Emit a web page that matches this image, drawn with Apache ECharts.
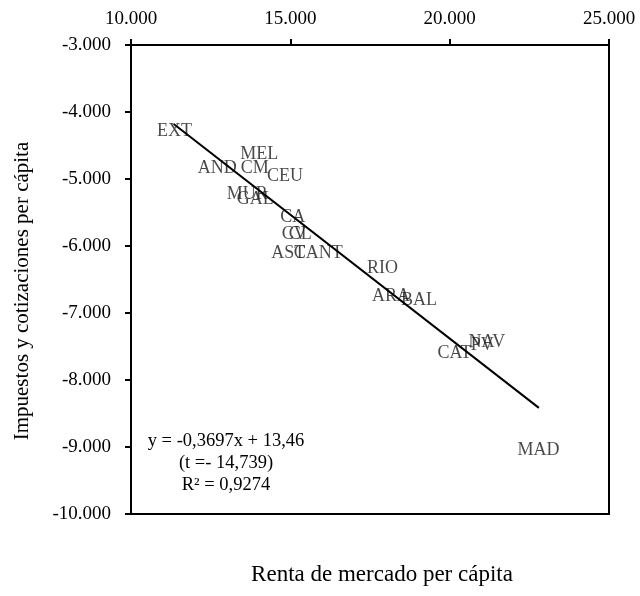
<!DOCTYPE html>
<html>
<head>
<meta charset="utf-8">
<script src="https://cdn.jsdelivr.net/npm/echarts@6/dist/echarts.min.js"></script>
<style>
html,body{margin:0;padding:0;background:#fff;}
#chart{width:640px;height:596px;}
</style>
</head>
<body>
<div id="chart"></div>
<script>
// Data
const regions = ['EXT','MEL','AND','CM','CEU','MUR','GAL','CA','CV','CL','AST','CANT','RIO','ARA','BAL','CAT','NAV','PV','MAD'];
const renta = [11362,14025,12709,13884,14830,13649,13899,15074,15121,15309,14933,15873,17893,18159,19036,20154,21166,21025,22788];
const impuestos = [-4294,-4627,-4846,-4846,-4955,-5221,-5309,-5575,-5821,-5821,-6109,-6109,-6333,-6757,-6806,-7601,-7436,-7478,-9045];
const trendX = [11340, 22800];
const trendY = [-4180, -8416];
const xTicks = [10000, 15000, 20000, 25000];
const yTicks = [-3000, -4000, -5000, -6000, -7000, -8000, -9000, -10000];
const equationLines = ['y = -0,3697x + 13,46', '(t =- 14,739)', 'R² = 0,9274'];
const xTitle = 'Renta de mercado per cápita';
const yTitle = 'Impuestos y cotizaciones per cápita';

function fmt(v) {
  const neg = v < 0;
  const a = Math.abs(Math.round(v));
  const s = String(a).replace(/\B(?=(\d{3})+(?!\d))/g, '.');
  return (neg ? '-' : '') + s;
}

const FONT = '"Liberation Serif", "DejaVu Serif", serif';
const chart = echarts.init(document.getElementById('chart'), null, {renderer: 'canvas'});

const points = renta.map((x, i) => ({name: regions[i], value: [x, impuestos[i]]}));
const trend = trendX.map((x, i) => [x, trendY[i]]);

chart.setOption({
  animation: false,
  backgroundColor: '#fff',
  grid: {
    left: 131, top: 45, width: 478, height: 469,
    show: true, borderColor: '#000', borderWidth: 2, backgroundColor: 'transparent'
  },
  xAxis: {
    type: 'value', position: 'top',
    min: xTicks[0], max: xTicks[xTicks.length - 1], interval: 5000,
    axisLine: {show: true, onZero: false, lineStyle: {color: '#000', width: 2}},
    axisTick: {show: true, inside: false, length: 6, lineStyle: {color: '#000', width: 2}},
    splitLine: {show: false},
    axisLabel: {color: '#000', fontFamily: FONT, fontSize: 19, margin: 16, formatter: fmt}
  },
  yAxis: {
    type: 'value',
    min: yTicks[yTicks.length - 1], max: yTicks[0], interval: 1000,
    axisLine: {show: true, onZero: false, lineStyle: {color: '#000', width: 2}},
    axisTick: {show: true, inside: false, length: 6, lineStyle: {color: '#000', width: 2}},
    splitLine: {show: false},
    axisLabel: {color: '#000', fontFamily: FONT, fontSize: 19, margin: 20, formatter: fmt}
  },
  series: [
    {
      type: 'scatter',
      data: points,
      symbolSize: 1,
      itemStyle: {color: 'rgba(0,0,0,0)'},
      label: {
        show: true, position: 'inside', formatter: '{b}',
        color: '#1a1a1a', fontFamily: FONT, fontSize: 18
      },
      z: 2
    },
    {
      type: 'line',
      data: trend,
      symbol: 'none',
      lineStyle: {color: '#000', width: 2},
      z: 3
    }
  ],
  graphic: [
    {
      type: 'text',
      style: {
        text: equationLines.join('\n'), x: 226, y: 463,
        align: 'center', verticalAlign: 'middle', lineHeight: 22,
        font: '18.5px ' + FONT, fill: '#000'
      }
    },
    {
      type: 'text',
      style: {
        text: xTitle, x: 382, y: 575, align: 'center', verticalAlign: 'middle',
        font: '23px ' + FONT, fill: '#000'
      }
    },
    {
      type: 'text',
      x: 22, y: 291, rotation: Math.PI / 2,
      style: {
        text: yTitle, x: 0, y: 0, align: 'center', verticalAlign: 'middle',
        font: '21px ' + FONT, fill: '#000'
      }
    }
  ]
});
</script>
</body>
</html>
